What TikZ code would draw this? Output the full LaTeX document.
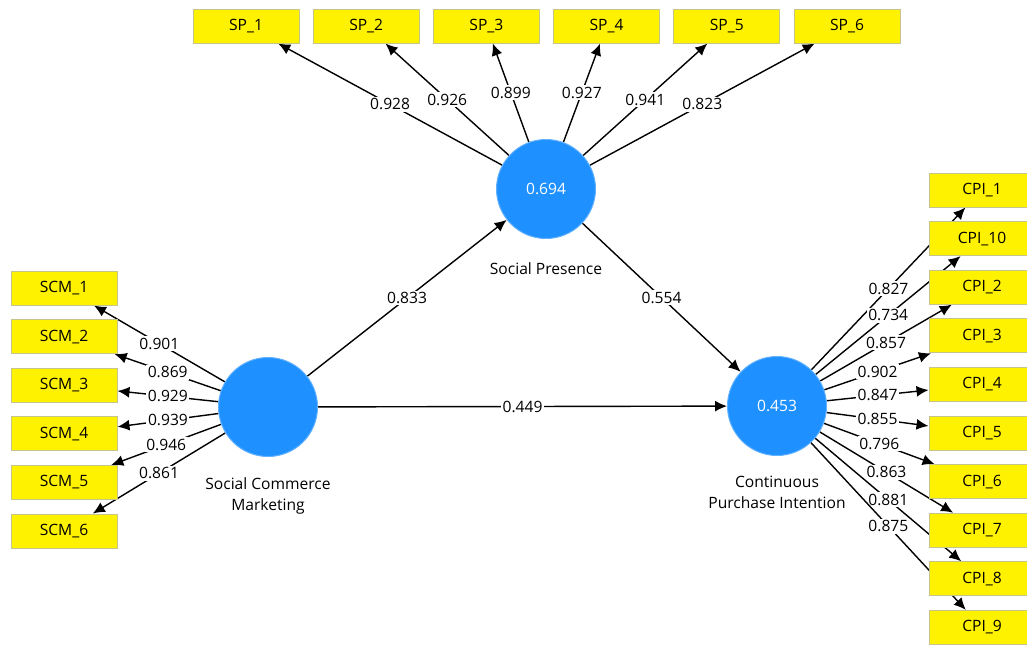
\documentclass[tikz,border=0pt]{standalone}
\usepackage{fontspec}
\setmainfont{Open Sans}
\usepackage{xcolor}
\usepackage{tikz}
\usetikzlibrary{arrows.meta, positioning, backgrounds}

\definecolor{plsblue}{RGB}{30,144,255}
\definecolor{itemborder}{RGB}{196,196,140}

\begin{document}
\begin{tikzpicture}[x=0.5pt, y=-0.5pt, node distance=6.8pt,
        font=\fontsize{7.8}{10.5}\selectfont,
        latent/.style={circle, draw=plsblue!70!white, line width=0.5pt, fill=plsblue, minimum size=49.5pt, inner sep=0pt, text=white},
        item/.style={rectangle, draw=itemborder, line width=0.5pt, fill=yellow, minimum width=53pt, minimum height=17pt, inner sep=0pt},
        caption/.style={align=center, inner sep=0pt},
        line/.style={draw, -{Latex[length=6pt,width=5.5pt]}, line width=0.7pt},
        weight/.style={midway, fill=white, inner sep=0.8pt}]

        \useasboundingbox (0,0) rectangle (1027,644);

        % Constructs
        \node [latent] (scm) at (268,407) {};
        \node [latent] (sp) at (546,189) {0.694};
        \node [latent] (cpi) at (777,406) {0.453};

        \node [caption, below=11.5pt of sp] (splabel) {Social Presence};
        \node [caption, below=10pt of scm] (scmlabel) {Social Commerce\\Marketing};
        \node [caption, below=10pt of cpi] (cpilabel) {Continuous\\Purchase Intention};

        % Indicators: Social Presence
        \node [item] (sp1) at (246,26) {SP\_1};
        \node [item, right=6.6pt of sp1] (sp2) {SP\_2};
        \node [item, right=6.6pt of sp2] (sp3) {SP\_3};
        \node [item, right=6.6pt of sp3] (sp4) {SP\_4};
        \node [item, right=6.6pt of sp4] (sp5) {SP\_5};
        \node [item, right=6.6pt of sp5] (sp6) {SP\_6};

        % Indicators: Social Commerce Marketing
        \node [item] (scm1) at (64,288) {SCM\_1};
        \node [item, below=of scm1] (scm2) {SCM\_2};
        \node [item, below=of scm2] (scm3) {SCM\_3};
        \node [item, below=of scm3] (scm4) {SCM\_4};
        \node [item, below=of scm4] (scm5) {SCM\_5};
        \node [item, below=of scm5] (scm6) {SCM\_6};

        % Indicators: Continuous Purchase Intention
        \node [item] (cpi1) at (982,190) {CPI\_1};
        \node [item, below=of cpi1] (cpi10) {CPI\_10};
        \node [item, below=of cpi10] (cpi2) {CPI\_2};
        \node [item, below=of cpi2] (cpi3) {CPI\_3};
        \node [item, below=of cpi3] (cpi4) {CPI\_4};
        \node [item, below=of cpi4] (cpi5) {CPI\_5};
        \node [item, below=of cpi5] (cpi6) {CPI\_6};
        \node [item, below=of cpi6] (cpi7) {CPI\_7};
        \node [item, below=of cpi7] (cpi8) {CPI\_8};
        \node [item, below=of cpi8] (cpi9) {CPI\_9};

        % Edges (behind the boxes)
        \begin{pgfonlayer}{background}
        \path [line] (scm) -- node[weight] {0.833} (sp);
        \path [line] (sp) -- node[weight] {0.554} (cpi);
        \path [line] (scm) -- node[weight] {0.449} (cpi);

        \path [line] (sp) -- node[weight] {0.928} (sp1);
        \path [line] (sp) -- node[weight] {0.926} (sp2);
        \path [line] (sp) -- node[weight] {0.899} (sp3);
        \path [line] (sp) -- node[weight] {0.927} (sp4);
        \path [line] (sp) -- node[weight] {0.941} (sp5);
        \path [line] (sp) -- node[weight] {0.823} (sp6);

        \path [line] (scm) -- node[weight] {0.901} (scm1);
        \path [line] (scm) -- node[weight] {0.869} (scm2);
        \path [line] (scm) -- node[weight] {0.929} (scm3);
        \path [line] (scm) -- node[weight] {0.939} (scm4);
        \path [line] (scm) -- node[weight] {0.946} (scm5);
        \path [line] (scm) -- node[weight] {0.861} (scm6);

        \path [line] (cpi) -- node[weight] {0.827} (cpi1);
        \path [line] (cpi) -- node[weight] {0.734} (cpi10);
        \path [line] (cpi) -- node[weight] {0.857} (cpi2);
        \path [line] (cpi) -- node[weight] {0.902} (cpi3);
        \path [line] (cpi) -- node[weight] {0.847} (cpi4);
        \path [line] (cpi) -- node[weight] {0.855} (cpi5);
        \path [line] (cpi) -- node[weight] {0.796} (cpi6);
        \path [line] (cpi) -- node[weight] {0.863} (cpi7);
        \path [line] (cpi) -- node[weight] {0.881} (cpi8);
        \path [line] (cpi) -- node[weight] {0.875} (cpi9);
        \end{pgfonlayer}

    \end{tikzpicture}
\end{document}
